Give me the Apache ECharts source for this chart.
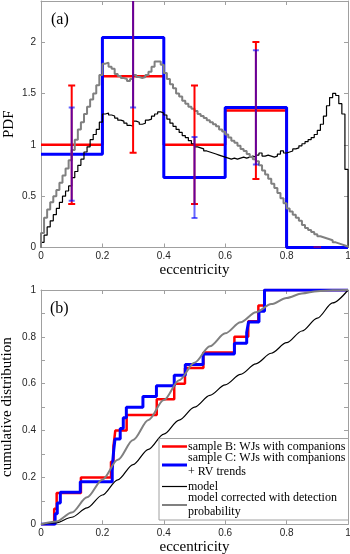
<!DOCTYPE html>
<html><head><meta charset="utf-8">
<script src="https://cdn.jsdelivr.net/npm/echarts@6.0.0/dist/echarts.min.js"></script>
<style>html,body{margin:0;padding:0;background:#fff}#c{width:350px;height:554px}</style>
</head><body><div id="c"></div><script>
// ---------- data ----------
// (a) histogram bins
const histEdges = [0, 0.2, 0.4, 0.6, 0.8, 1.0];
const binCenters = [0.1, 0.3, 0.5, 0.7, 0.9];
const pdfB = [1.0, 1.667, 1.0, 1.333, 0];
const errB = [0.577, 0.745, 0.577, 0.667, 0];
const pdfC = [0.909, 2.045, 0.682, 1.364, 0];
const errC = [0.455, 0.682, 0.394, 0.557, 0];
// (a) model PDFs, 100 bins of width 0.01
const modelPdf = [
 0.05,0.12,0.20,0.26,0.32,0.38,0.44,0.50,0.55,0.60,
 0.68,0.74,0.80,0.86,0.93,0.98,1.05,1.10,1.15,1.22,
 1.30,1.31,1.29,1.28,1.26,1.24,1.23,1.21,1.19,1.18,
 1.23,1.22,1.20,1.21,1.24,1.25,1.28,1.30,1.32,1.31,
 1.29,1.25,1.21,1.18,1.15,1.12,1.09,1.07,1.04,1.01,
 0.98,0.97,0.96,0.94,0.93,0.92,0.91,0.90,0.89,0.88,
 0.87,0.86,0.87,0.86,0.87,0.88,0.87,0.88,0.89,0.88,
 0.90,0.92,0.89,0.90,0.89,0.88,0.89,0.91,0.94,0.92,
 0.93,0.94,0.96,0.97,0.99,1.01,1.03,1.05,1.07,1.10,
 1.14,1.20,1.28,1.38,1.46,1.50,1.48,1.40,1.30,0.76];
const corrPdf = [
 0.14,0.29,0.37,0.44,0.50,0.56,0.63,0.70,0.77,0.85,
 0.95,1.05,1.15,1.22,1.30,1.37,1.44,1.50,1.58,1.68,
 1.79,1.80,1.76,1.74,1.69,1.67,1.65,1.64,1.62,1.64,
 1.68,1.66,1.65,1.66,1.68,1.71,1.76,1.81,1.81,1.78,
 1.70,1.64,1.59,1.55,1.50,1.47,1.43,1.40,1.37,1.35,
 1.33,1.30,1.28,1.26,1.24,1.22,1.20,1.18,1.15,1.13,
 1.10,1.07,1.04,1.02,0.99,0.96,0.94,0.91,0.88,0.86,
 0.84,0.80,0.75,0.71,0.67,0.62,0.58,0.53,0.48,0.43,
 0.38,0.35,0.32,0.29,0.26,0.22,0.19,0.17,0.15,0.13,
 0.11,0.10,0.09,0.08,0.07,0.05,0.04,0.03,0.02,0.01];
// (b) eccentricities of the samples
const eccB = [0.043,0.051,0.130,0.228,0.236,0.242,0.279,0.377,0.434,0.469,0.529,0.630,0.675,0.708,0.728];
const eccC = [0.046,0.053,0.063,0.128,0.232,0.234,0.237,0.241,0.258,0.268,0.278,0.332,0.376,0.434,0.470,0.528,0.630,0.670,0.676,0.710,0.728,0.728];
// (b) model cumulative distributions
const cdfX = [0,0.05,0.1,0.15,0.2,0.25,0.3,0.35,0.4,0.45,0.5,0.55,0.6,0.65,0.7,0.75,0.8,0.85,0.9,0.95,1.0];
const cdfModel = [0,0.006,0.03,0.07,0.125,0.19,0.255,0.32,0.385,0.445,0.5,0.55,0.595,0.64,0.685,0.73,0.775,0.825,0.88,0.945,1.0];
const cdfCorr = [0,0.012,0.05,0.115,0.19,0.275,0.36,0.445,0.53,0.615,0.69,0.76,0.815,0.862,0.905,0.94,0.966,0.985,0.995,0.999,1.0];
// legend labels
const names = ['sample B: WJs with companions', 'sample C: WJs with companions\n+ RV trends', 'model', 'model corrected with detection\nprobability'];
const colors = ['#ff0000', '#0000ff', '#000000', '#808080'];

// ---------- helpers ----------
function stairs(edges, vals, startAtZero) {
  const pts = startAtZero ? [[edges[0], 0]] : [];
  for (let i = 0; i < vals.length; i++) pts.push([edges[i], vals[i]]);
  pts.push([edges[edges.length - 1], vals[vals.length - 1]]);
  pts.push([edges[edges.length - 1], 0]);
  return pts;
}
function edgesOf(vals) { const e = vals.map((_, i) => i / vals.length); e.push(1); return e; }
function ecdf(sample) {
  const s = sample.slice().sort((a, b) => a - b);
  const pts = [[0, 0]];
  s.forEach((v, k) => pts.push([v, (k + 1) / s.length]));
  pts.push([1, 1]);
  return pts;
}
const FRAME = '#a0a0a0';
const TXT = '#262626';
const SERIF = 'Liberation Serif';
const SANS = 'Liberation Sans';
function axisBase(extra) {
  return Object.assign({
    type: 'value', min: 0, max: 1, interval: 0.2,
    axisLine: { show: true, onZero: false, lineStyle: { color: FRAME, width: 1 } },
    axisTick: { show: true, inside: true, length: 4, lineStyle: { color: FRAME } },
    splitLine: { show: false },
    axisLabel: { show: true, color: TXT, fontFamily: SANS, fontSize: 10, margin: 4 },
    nameTextStyle: { fontFamily: SERIF, fontSize: 15, color: '#000' }
  }, extra);
}
function errSeries(name, vals, errs, color, width, opacity, capHalf, z) {
  return {
    type: 'custom', name: name, xAxisIndex: 0, yAxisIndex: 0, clip: true, z: z,
    encode: { x: 0, y: [1, 2] },
    data: binCenters.map((c, i) => [c, vals[i] - errs[i], vals[i] + errs[i]]),
    renderItem: function (params, api) {
      const x = api.value(0);
      const lo = api.coord([x, api.value(1)]);
      const hi = api.coord([x, api.value(2)]);
      const st = { stroke: color, lineWidth: width, fill: null, opacity: opacity };
      return {
        type: 'group', children: [
          { type: 'line', shape: { x1: lo[0], y1: lo[1], x2: hi[0], y2: hi[1] }, style: st },
          { type: 'line', shape: { x1: lo[0] - capHalf, y1: lo[1], x2: lo[0] + capHalf, y2: lo[1] }, style: st },
          { type: 'line', shape: { x1: hi[0] - capHalf, y1: hi[1], x2: hi[0] + capHalf, y2: hi[1] }, style: st }
        ]
      };
    }
  };
}
// hand-built legend box (layout only)
const legX = 159, legY = 438.5, legW = 189.5, legH = 81.5;
const legRows = [446.5, 465, 486.5, 505];
const legWidths = [2.5, 3, 1.2, 2];
const legendGraphic = [{ type: 'rect', z: 100, shape: { x: legX, y: legY, width: legW, height: legH },
  style: { fill: '#fff', stroke: FRAME, lineWidth: 1 } }];
names.forEach((n, i) => {
  const yy = legRows[i];
  legendGraphic.push({ type: 'line', z: 101, shape: { x1: 162, y1: yy, x2: 187, y2: yy },
    style: { stroke: colors[i], lineWidth: legWidths[i] } });
  legendGraphic.push({ type: 'text', z: 101, x: 188, y: yy,
    style: { text: n, fill: '#000', font: '12px "Liberation Serif"', lineHeight: 13.4, verticalAlign: 'middle', align: 'left' } });
});

const chart = echarts.init(document.getElementById('c'), null, { renderer: 'canvas' });
const option = {
  animation: false,
  backgroundColor: '#fff',
  grid: [
    { left: 41, right: 2, top: 1, bottom: 306.5, containLabel: false, outerBoundsMode: 'none' },
    { left: 41, right: 2, top: 290, bottom: 29.7, containLabel: false, outerBoundsMode: 'none' }
  ],
  xAxis: [
    axisBase({ gridIndex: 0, position: 'bottom', name: 'eccentricity', nameLocation: 'middle', nameGap: 15 }),
    axisBase({ gridIndex: 0, position: 'top', axisLabel: { show: false } }),
    axisBase({ gridIndex: 1, position: 'bottom', name: 'eccentricity', nameLocation: 'middle', nameGap: 15 }),
    axisBase({ gridIndex: 1, position: 'top', axisLabel: { show: false } })
  ],
  yAxis: [
    axisBase({ gridIndex: 0, position: 'left', max: 2.4, interval: 0.5, name: 'PDF', nameLocation: 'middle', nameGap: 24,
      nameMoveOverlap: false,
      axisLabel: { show: true, showMaxLabel: false, color: TXT, fontFamily: SANS, fontSize: 10, margin: 5 } }),
    axisBase({ gridIndex: 0, position: 'right', max: 2.4, interval: 0.5, axisLabel: { show: false } }),
    axisBase({ gridIndex: 1, position: 'left', name: 'cumulative distribution', nameLocation: 'middle', nameGap: 26,
      nameMoveOverlap: false,
      axisLabel: { show: true, color: TXT, fontFamily: SANS, fontSize: 10, margin: 5 },
      minorTick: { show: true, splitNumber: 2, length: 4, lineStyle: { color: FRAME } } }),
    axisBase({ gridIndex: 1, position: 'right', axisLabel: { show: false },
      minorTick: { show: true, splitNumber: 2, length: 4, lineStyle: { color: FRAME } } })
  ],
  graphic: [
    { type: 'text', left: 51, top: 12, style: { text: '(a)', font: '16px "Liberation Serif"', fill: '#000' } },
    { type: 'text', left: 50, top: 301, style: { text: '(b)', font: '16px "Liberation Serif"', fill: '#000' } }
  ].concat(legendGraphic),
  series: [
    // (a)
    { type: 'line', name: 'histB', xAxisIndex: 0, yAxisIndex: 0, step: 'end', symbol: 'none', z: 2,
      data: stairs(histEdges, pdfB, false), lineStyle: { color: colors[0], width: 2.5 } },
    { type: 'line', name: 'histC', xAxisIndex: 0, yAxisIndex: 0, step: 'end', symbol: 'none', z: 3,
      data: stairs(histEdges, pdfC, false), lineStyle: { color: colors[1], width: 3 } },
    { type: 'line', name: 'pdfModel', xAxisIndex: 0, yAxisIndex: 0, step: 'end', symbol: 'none', z: 4,
      data: stairs(edgesOf(modelPdf), modelPdf, true), lineStyle: { color: colors[2], width: 1.2 } },
    { type: 'line', name: 'pdfCorr', xAxisIndex: 0, yAxisIndex: 0, step: 'end', symbol: 'none', z: 5,
      data: stairs(edgesOf(corrPdf), corrPdf, true), lineStyle: { color: colors[3], width: 2 } },
    errSeries('errB', pdfB, errB, colors[0], 2, 1, 3.5, 6),
    errSeries('errC', pdfC, errC, colors[1], 2, 0.6, 3, 7),
    // (b)
    { type: 'line', name: 'cdfB', xAxisIndex: 2, yAxisIndex: 2, step: 'end', symbol: 'none', z: 2,
      data: ecdf(eccB), lineStyle: { color: colors[0], width: 2.5 } },
    { type: 'line', name: 'cdfC', xAxisIndex: 2, yAxisIndex: 2, step: 'end', symbol: 'none', z: 3,
      data: ecdf(eccC), lineStyle: { color: colors[1], width: 3 } },
    { type: 'line', name: 'cdfModel', xAxisIndex: 2, yAxisIndex: 2, symbol: 'none', smooth: 0.3, smoothMonotone: 'x', z: 4,
      data: cdfX.map((x, i) => [x, cdfModel[i]]), lineStyle: { color: colors[2], width: 1.2 } },
    { type: 'line', name: 'cdfCorr', xAxisIndex: 2, yAxisIndex: 2, symbol: 'none', smooth: 0.3, smoothMonotone: 'x', z: 5,
      data: cdfX.map((x, i) => [x, cdfCorr[i]]), lineStyle: { color: colors[3], width: 2 } }
  ]
};
chart.setOption(option);
</script></body></html>
